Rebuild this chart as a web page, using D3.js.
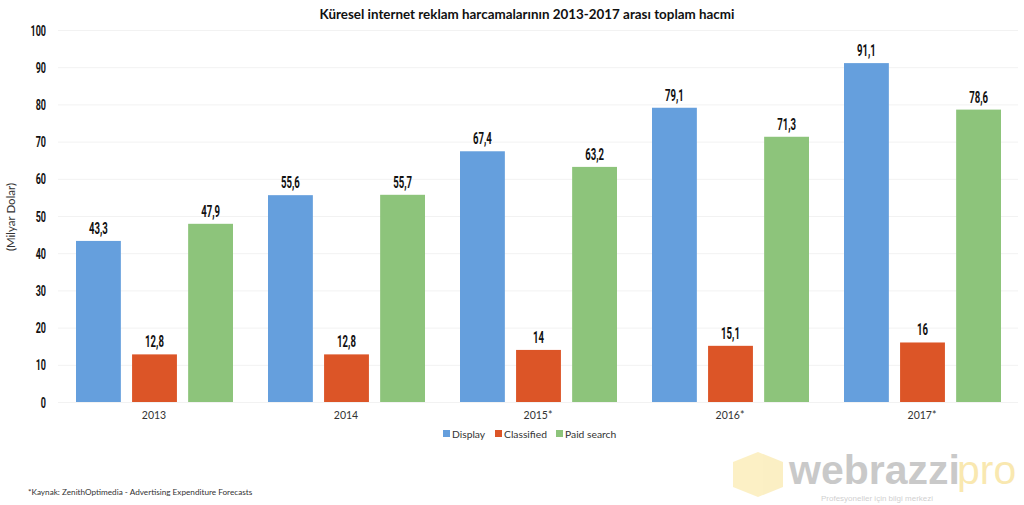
<!DOCTYPE html>
<html><head><meta charset="utf-8">
<script src="https://cdn.jsdelivr.net/npm/d3@7"></script>
<style>body{margin:0;background:#fff}svg{display:block}</style>
</head><body>
<svg id="c" width="1024" height="505"></svg>
<script>
const categories = ["2013","2014","2015*","2016*","2017*"];
const seriesNames = ["Display","Classified","Paid search"];
const display = [43.3,55.6,67.4,79.1,91.1];
const classified = [12.8,12.8,14,15.1,16];
const paidSearch = [47.9,55.7,63.2,71.3,78.6];
const yTicks = [0,10,20,30,40,50,60,70,80,90,100];
const colors = ["#659fdd","#dc5527","#8dc47b"];
const title = "Küresel internet reklam harcamalarının 2013-2017 arası toplam hacmi";
const yLabel = "(Milyar Dolar)";
const footnote = "*Kaynak: ZenithOptimedia - Advertising Expenditure Forecasts";

const svg = d3.select("#c");
const W=1024,H=505;
const m={left:58,right:6,top:30,bottom:103};
const x = d3.scaleBand().domain(categories).range([m.left,W-m.right]).padding(0);
const x1 = d3.scaleBand().domain(seriesNames).range([18,175]).paddingInner(0.2).paddingOuter(0);
const y = d3.scaleLinear().domain([0,100]).range([H-m.bottom,m.top]);
const numFont = "Roboto,'DejaVu Sans',sans-serif";
const txtFont = "Lato,'Open Sans',sans-serif";
const SX = 0.6;

// grid
svg.append("g").selectAll("line").data(yTicks).join("line")
  .attr("x1",m.left).attr("x2",W-m.right)
  .attr("y1",d=>y(d)+0.5).attr("y2",d=>y(d)+0.5)
  .attr("stroke","#f2f2f2").attr("stroke-width",1);

// y axis
const ya = svg.append("g").attr("transform",`translate(${m.left-12},0)`)
  .call(d3.axisLeft(y).tickValues(yTicks).tickSize(0).tickFormat(d3.format("d")));
ya.select(".domain").remove();
ya.selectAll(".tick text").attr("x",0).attr("dy",null).attr("y",5)
  .attr("transform",`scale(${SX},1)`)
  .attr("font-family",numFont).attr("font-weight","bold").attr("font-size",15).attr("fill","#111");

// x axis
const xa = svg.append("g").attr("transform",`translate(0,${H-m.bottom+7})`)
  .call(d3.axisBottom(x).tickSize(0));
xa.select(".domain").remove();
xa.selectAll("text").attr("font-family",txtFont).attr("font-size",10.5).attr("fill","#333");

const series = [display,classified,paidSearch];
const data = [];
categories.forEach((c,i)=>seriesNames.forEach((s,j)=>data.push({c,s,v:series[j][i],j})));
const fmt = v => String(v).replace(".",",");

svg.append("g").selectAll("rect").data(data).join("rect")
  .attr("x",d=>x(d.c)+x1(d.s)).attr("width",x1.bandwidth())
  .attr("y",d=>y(d.v)).attr("height",d=>y(0)-y(d.v))
  .attr("fill",d=>colors[d.j]);

svg.append("g").selectAll("text").data(data).join("text")
  .attr("transform",d=>`translate(${x(d.c)+x1(d.s)+x1.bandwidth()/2},${y(d.v)-7}) scale(${SX},1)`)
  .attr("text-anchor","middle").attr("font-family",numFont).attr("font-weight","bold")
  .attr("font-size",16).attr("fill","#111").text(d=>fmt(d.v));

// title
svg.append("text").attr("x",527).attr("y",19).attr("text-anchor","middle")
  .attr("font-family",txtFont).attr("font-weight","bold").attr("font-size",13.4).attr("fill","#111").text(title);

// y label
svg.append("text").attr("transform","translate(15,217) rotate(-90)").attr("text-anchor","middle")
  .attr("font-family",txtFont).attr("font-size",11.5).attr("fill","#333").text(yLabel);

// legend
const lg = svg.append("g");
const lx=[443,495,556];
seriesNames.forEach((s,i)=>{
  lg.append("rect").attr("x",lx[i]).attr("y",430).attr("width",7).attr("height",7).attr("fill",colors[i]);
  lg.append("text").attr("x",lx[i]+9).attr("y",438).attr("font-family",txtFont).attr("font-size",10.3).attr("fill","#333").text(s);
});

// footnote
svg.append("text").attr("x",28).attr("y",495).attr("font-family",txtFont).attr("font-size",8.2).attr("fill","#333").text(footnote);

// watermark
const wm = svg.append("g").attr("opacity",0.35);
wm.append("path").attr("d","M733,462 L758,452 L783,462 L783,487 L758,497 L733,487 Z").attr("fill","#f5d35a");
wm.append("text").attr("x",789).attr("y",484).attr("font-family","'Liberation Sans',Arial,sans-serif").attr("font-weight","bold").attr("font-size",41).attr("fill","#666").text("webrazzi");
wm.append("text").attr("x",957).attr("y",484).attr("font-family","'Liberation Sans',Arial,sans-serif").attr("font-size",41).attr("fill","#f0c020").text("pro");
wm.append("text").attr("x",821).attr("y",501).attr("font-family","'Liberation Sans',Arial,sans-serif").attr("font-size",8).attr("fill","#777").text("Profesyoneller için bilgi merkezi");
</script>
</body></html>
